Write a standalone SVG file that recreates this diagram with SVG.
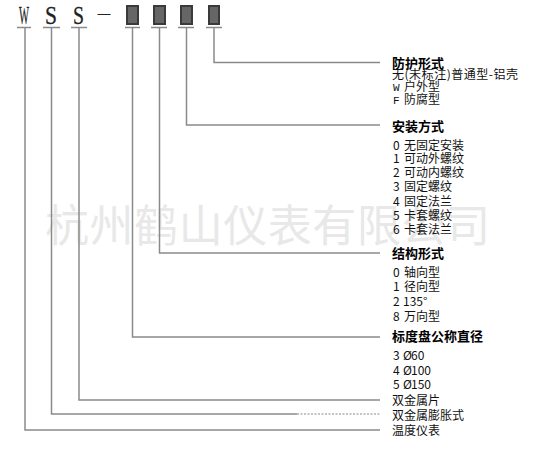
<svg xmlns="http://www.w3.org/2000/svg" width="538" height="452" viewBox="0 0 538 452">
<style>
.t{font-family:"Noto Sans CJK SC","Liberation Sans",sans-serif;font-size:12px;fill:#111}
.m{font-family:"Liberation Mono",monospace;font-size:11px}
.h{font-family:"Noto Sans CJK SC","Liberation Sans",sans-serif;font-size:13px;font-weight:bold;fill:#000}
.code{font-family:"Liberation Serif",serif;font-size:26px;fill:#222;stroke:#222;stroke-width:0.3}
.wm{font-family:"Noto Sans CJK SC",sans-serif;font-size:44px;fill:#e8e8e8}
.ln{fill:none;stroke:#8a8a8a;stroke-width:1.5}
.ul{stroke:#8a8a8a;stroke-width:1.5}
.box{fill:#666;stroke:#3a3a3a;stroke-width:2}
</style>
<rect width="538" height="452" fill="#fff"/>
<text class="wm" x="45" y="242" textLength="445" lengthAdjust="spacing">杭州鹤山仪表有限公司</text>
<g id="code">
<text class="code" x="19" y="24" textLength="10" lengthAdjust="spacingAndGlyphs">W</text>
<text class="code" x="45" y="24" textLength="12" lengthAdjust="spacingAndGlyphs">S</text>
<text class="code" x="73" y="24" textLength="11" lengthAdjust="spacingAndGlyphs">S</text>
<text class="code" x="98" y="18" style="font-size:16px" textLength="12" lengthAdjust="spacingAndGlyphs">–</text>
<rect class="box" x="127" y="6" width="11" height="18"/>
<rect class="box" x="154" y="6" width="11" height="18"/>
<rect class="box" x="181" y="6" width="11" height="18"/>
<rect class="box" x="209" y="6" width="10" height="18"/>
<line class="ul" x1="17" y1="27.5" x2="31" y2="27.5"/>
<line class="ul" x1="43" y1="27.5" x2="60" y2="27.5"/>
<line class="ul" x1="71" y1="27.5" x2="87" y2="27.5"/>
<line class="ul" x1="125" y1="27.5" x2="140" y2="27.5"/>
<line class="ul" x1="151" y1="27.5" x2="167" y2="27.5"/>
<line class="ul" x1="178" y1="27.5" x2="194" y2="27.5"/>
<line class="ul" x1="206" y1="27.5" x2="222" y2="27.5"/>
</g>
<g id="connectors">
<path class="ln" d="M214 27.5V62.5H380"/>
<path class="ln" d="M186.5 27.5V125H380"/>
<path class="ln" d="M159.5 27.5V253H380"/>
<path class="ln" d="M132.5 27.5V337H380"/>
<path class="ln" d="M79 27.5V400H380"/>
<path class="ln" d="M51.5 27.5V414H297"/>
<path d="M297 414H380" fill="none" stroke="#b0b0b0" stroke-width="1.5" stroke-dasharray="2 1.5"/>
<path class="ln" d="M25 27.5V430H380"/>
</g>
<g id="protection">
<text class="h" x="392" y="67.5">防护形式</text>
<text class="t" x="392" y="79" textLength="126" lengthAdjust="spacing">无(未标注)普通型-铝壳</text>
<text class="t" x="393" y="91"><tspan class="m">W</tspan><tspan x="404">户外型</tspan></text>
<text class="t" x="393" y="104"><tspan class="m">F</tspan><tspan x="404">防腐型</tspan></text>
</g>
<g id="mounting">
<text class="h" x="392" y="131">安装方式</text>
<text class="t" x="393" y="149.5">0<tspan x="404">无固定安装</tspan></text>
<text class="t" x="393" y="163">1<tspan x="404">可动外螺纹</tspan></text>
<text class="t" x="393" y="177">2<tspan x="404">可动内螺纹</tspan></text>
<text class="t" x="393" y="191">3<tspan x="404">固定螺纹</tspan></text>
<text class="t" x="393" y="205.5">4<tspan x="404">固定法兰</tspan></text>
<text class="t" x="393" y="219.5">5<tspan x="404">卡套螺纹</tspan></text>
<text class="t" x="393" y="233.5">6<tspan x="404">卡套法兰</tspan></text>
</g>
<g id="structure">
<text class="h" x="392" y="258">结构形式</text>
<text class="t" x="393" y="277">0<tspan x="404">轴向型</tspan></text>
<text class="t" x="393" y="291">1<tspan x="404">径向型</tspan></text>
<text class="t" x="393" y="305.5">2<tspan x="403">135°</tspan></text>
<text class="t" x="393" y="321">8<tspan x="404">万向型</tspan></text>
</g>
<g id="dial">
<text class="h" x="392" y="341">标度盘公称直径</text>
<text class="t" x="393" y="359.5">3<tspan x="403">Ø</tspan><tspan x="411">60</tspan></text>
<text class="t" x="393" y="374.5">4<tspan x="403">Ø</tspan><tspan x="411">100</tspan></text>
<text class="t" x="393" y="388.5">5<tspan x="403">Ø</tspan><tspan x="411">150</tspan></text>
</g>
<g id="element">
<text class="t" x="392" y="404.5">双金属片</text>
</g>
<g id="type">
<text class="t" x="392" y="419.5">双金属膨胀式</text>
</g>
<g id="instrument">
<text class="t" x="392" y="434.5">温度仪表</text>
</g>
</svg>
